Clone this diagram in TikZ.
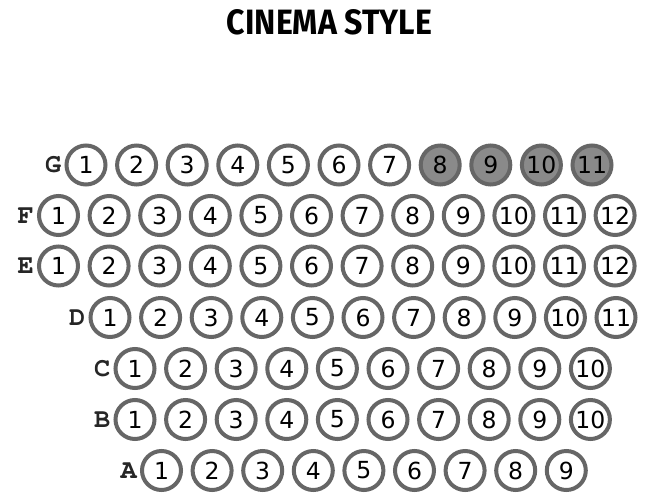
\documentclass[tikz,border=0pt]{standalone}
\usepackage{fontspec}
\usepackage{graphicx}
\newfontfamily\numfont{DejaVu Sans}
\newfontfamily\titlefont{Fira Sans}
\newfontfamily\lblfont{texgyrecursor-bold}[Extension=.otf]
\definecolor{ring}{HTML}{666666}
\definecolor{taken}{HTML}{8A8A8A}
\tikzset{
  seat/.style={circle, draw=ring, line width=4pt, fill=white, minimum size=39pt,
    inner sep=0pt, font=\numfont\fontsize{23.5}{25}\selectfont, text=black},
  takenseat/.style={seat, fill=taken},
  rowlabel/.style={anchor=east, inner sep=0pt, font=\lblfont\fontsize{27}{29}\selectfont, text=black!85}
}
\begin{document}
\begin{tikzpicture}[x=1pt,y=-1pt]
\useasboundingbox (0,0) rectangle (650,495);
\fill[white] (0,0) rectangle (650,495);
\node[inner sep=0pt] (title) at (329.5,22.5) {\resizebox{205pt}{25pt}{\titlefont\bfseries CINEMA STYLE}};
% rows: name / y / first x / count / first taken
\foreach \r/\y/\x/\n/\t in {G/165/86/11/8, F/215.5/58.5/12/99, E/266/58.5/12/99, D/317.5/110/11/99, C/368.5/135/10/99, B/419.5/135/10/99, A/470.5/161.5/9/99}{
  \foreach \i in {1,...,\n}{
    \pgfmathsetmacro{\cx}{\x+(\i-1)*50.6}
    \ifnum\i<\t
      \node[seat] (\r-\i) at (\cx,\y) {\i};
    \else
      \node[takenseat] (\r-\i) at (\cx,\y) {\i};
    \fi
  }
  \node[rowlabel] (\r-label) at ([xshift=-3pt]\r-1.west) {\r};
}
\end{tikzpicture}
\end{document}
